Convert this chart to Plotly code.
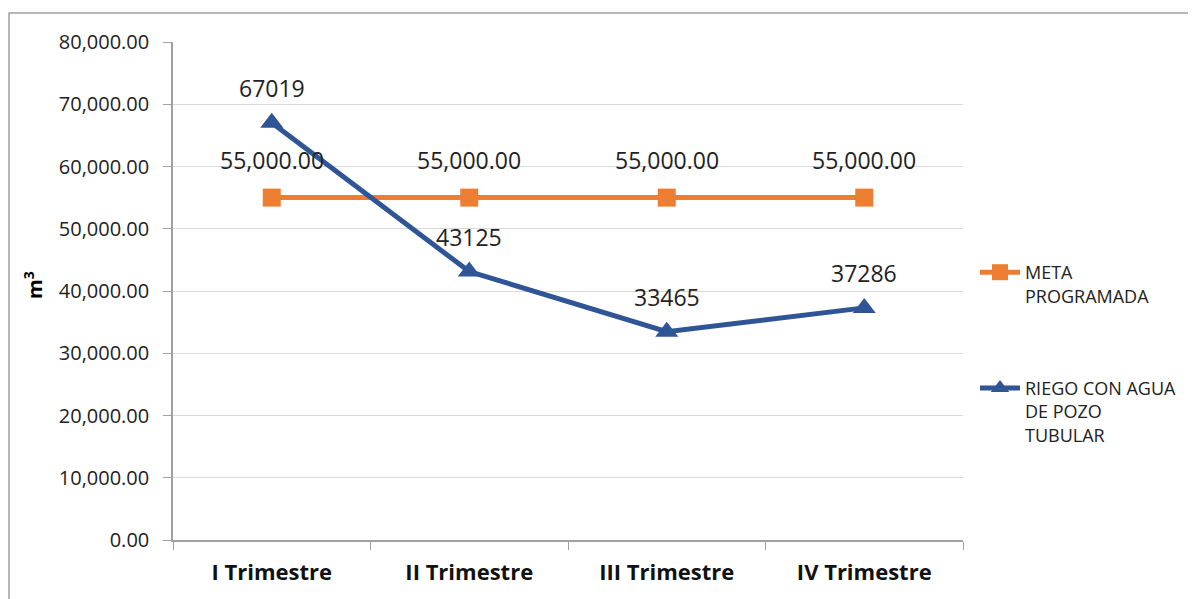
import plotly.graph_objects as go

categories = ["I Trimestre", "II Trimestre", "III Trimestre", "IV Trimestre"]
meta = [55000, 55000, 55000, 55000]
riego = [67019, 43125, 33465, 37286]
meta_name = "META<br>PROGRAMADA"
riego_name = "RIEGO CON AGUA<br>DE POZO<br>TUBULAR"

ORANGE = "#ED7D31"
BLUE = "#2F5597"
FONT = "Open Sans, Liberation Sans, sans-serif"

fig = go.Figure()
fig.add_trace(go.Scatter(
    x=categories, y=meta, name=meta_name, mode="lines+markers",
    line=dict(color=ORANGE, width=5),
    marker=dict(symbol="square", size=18, color=ORANGE),
    legendgroup="a",
))
fig.add_trace(go.Scatter(
    x=categories, y=riego, name=riego_name, mode="lines+markers",
    line=dict(color=BLUE, width=5),
    marker=dict(symbol="triangle-up", size=20, color=BLUE),
    legendgroup="b",
))

for c, v in zip(categories, meta):
    fig.add_annotation(x=c, y=v, text=f"{v:,.2f}", showarrow=False, yshift=38,
                       font=dict(size=23, color="#222", family=FONT))
for c, v in zip(categories, riego):
    fig.add_annotation(x=c, y=v, text=f"{v}", showarrow=False, yshift=35,
                       font=dict(size=23, color="#222", family=FONT))

# page body has an 8px default offset
OFF = 8
W, H = 1196, 599
L, R, T, B = 173 - OFF, 963 - OFF, 42 - OFF, 540 - OFF
pw, ph = R - L, B - T

fig.add_shape(type="rect", xref="paper", yref="paper",
              x0=(1 - L) / pw, x1=(1400 - L) / pw,
              y0=-(800 - B) / ph, y1=1 + (T - 5) / ph,
              line=dict(color="#A0A0A0", width=1.5), fillcolor="rgba(0,0,0,0)", layer="below")

fig.add_annotation(xref="paper", yref="paper", x=(33 - OFF - L) / pw, y=(B - (285 - OFF)) / ph,
                   xanchor="center", yanchor="middle",
                   text="<b>m<sup>3</sup></b>", showarrow=False, textangle=-90,
                   font=dict(size=20, color="#000", family=FONT))

fig.update_layout(
    width=W, height=H,
    margin=dict(l=L, r=W - R, t=T, b=H - B),
    paper_bgcolor="white", plot_bgcolor="white",
    font=dict(family=FONT, color="#222"),
    showlegend=True,
    legend=dict(x=(975 - OFF - L) / pw, y=(B - (254 - OFF)) / ph, xanchor="left", yanchor="top",
                traceorder="grouped", tracegroupgap=66, valign="top", itemwidth=40,
                font=dict(size=18, color="#222", family=FONT), bgcolor="rgba(0,0,0,0)"),
    xaxis=dict(
        type="category", range=[-0.5, 3.5], tickson="boundaries", ticks="outside", ticklen=8,
        tickcolor="#A0A0A0", showline=True, linecolor="#A0A0A0", linewidth=1.5,
        showgrid=False, ticklabelstandoff=12,
        tickfont=dict(size=22, color="#111", family=FONT, weight="bold"),
    ),
    yaxis=dict(
        range=[0, 80000], dtick=10000, tickformat=",.2f", ticks="outside", ticklen=8,
        tickcolor="#A0A0A0", showline=True, linecolor="#A0A0A0", linewidth=1.5,
        gridcolor="#D9D9D9", gridwidth=1, zeroline=False, ticklabelstandoff=10,
        tickfont=dict(size=20, color="#222", family=FONT),
    ),
)

fig.write_html("out.html")
